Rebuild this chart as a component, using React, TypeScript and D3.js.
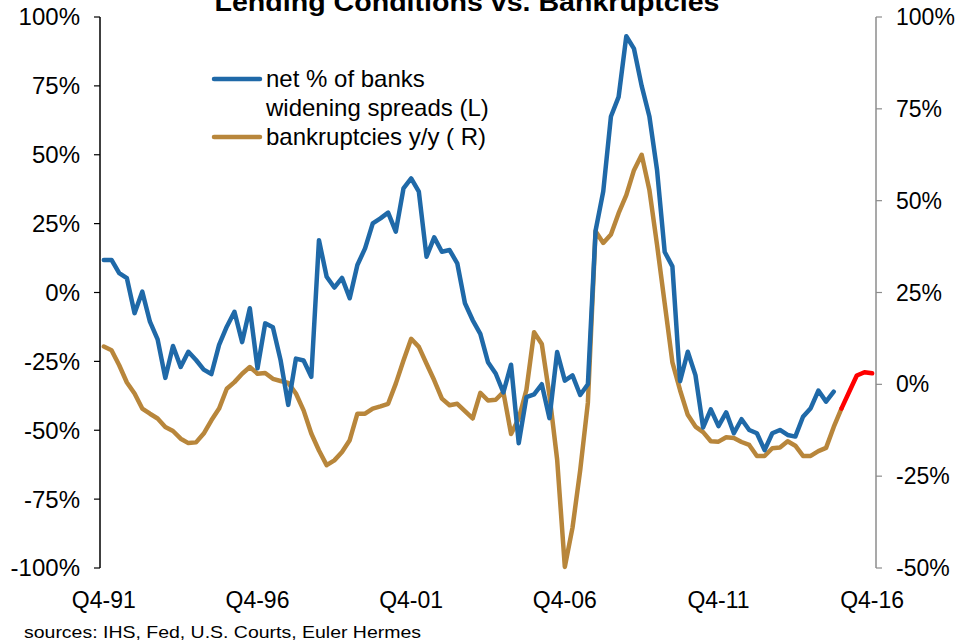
import React from "react";
import * as d3 from "d3";

// ---- data ----
const startYear = 1991; // first quarter Q4-91
const quarterCount = 101; // Q4-91 .. Q4-16
const xTickLabels = ["Q4-91", "Q4-96", "Q4-01", "Q4-06", "Q4-11", "Q4-16"];
const leftTicks = [100, 75, 50, 25, 0, -25, -50, -75, -100];
const rightTicks = [100, 75, 50, 25, 0, -25, -50];

// net % of banks widening spreads (left axis), Q4-91 .. Q4-15
const spreads = [
  11.8, 11.8, 7, 5.2, -7.5, 0.3, -10.6, -17, -31, -19.4,
  -27, -21.5, -24.5, -28, -29.6, -19, -12.4, -7, -18, -5.7,
  -27.5, -11.2, -12.6, -24.5, -40.8, -24, -24.7, -30.6, 19, 5.7,
  1.8, 5.3, -2.1, 10, 16, 25.1, 26.9, 29, 22.1, 37.8,
  41.4, 36.6, 13, 20, 14.8, 15.4, 10.6, -3.9, -10, -15,
  -25.3, -29.4, -36.3, -26.2, -54.7, -38, -37, -33.3, -45.6, -21.6,
  -32, -30.1, -37.2, -33.3, 22.4, 36.7, 63.9, 71, 93, 88.5,
  75, 64, 44.5, 14.7, 9.5, -32.2, -21.5, -30, -49, -42.4,
  -48.5, -43.5, -51.1, -46, -49.9, -51.1, -57.2, -51.1, -49.9, -51.7,
  -52.3, -45.1, -42, -35.6, -39.6, -36,
];

// bankruptcies y/y (right axis), Q4-91 .. Q4-15
const bankruptcies = [
  10.3, 9.3, 5.2, 0.5, -2.5, -6.6, -8, -9.3, -11.6, -12.7,
  -14.8, -16, -15.8, -13.4, -9.8, -6.6, -1.2, 0.6, 2.9, 4.7,
  2.9, 3.1, 1.5, 0.9, 0.4, -2.5, -7.1, -13.4, -18, -22,
  -20.7, -18.4, -15.2, -8, -8, -6.6, -6, -5.3, 0.2, 6.5,
  12.4, 10.2, 5.6, 1.1, -3.9, -5.7, -5.3, -7.3, -9.3, -2.3,
  -4.4, -4.2, -2.1, -13.5, -9.3, -1.5, 14.2, 11, -3, -20.5,
  -49.7, -39, -23.4, -5, 41.7, 38.5, 40.8, 46.6, 51.5, 58.3,
  62.5, 53, 38, 22, 6, -1.6, -8.3, -11.5, -13, -15.5,
  -15.6, -14.4, -14.6, -15.7, -16.5, -19.5, -19.5, -17.4, -17.2, -15.5,
  -16.7, -19.5, -19.5, -18.2, -17.3, -11.6, -6.6,
];

// bankruptcies forecast (right axis), Q4-15 .. Q4-16
const forecastStart = 96;
const forecast = [-6.6, -2.1, 2.4, 3.3, 3.0];

const quarters: string[] = [];
for (let i = 0; i < quarterCount; i++) {
  const q = ((3 + i) % 4) + 1;
  const y = startYear + Math.floor((3 + i) / 4);
  quarters.push(`Q${q}-${String(y % 100).padStart(2, "0")}`);
}

const W = 956;
const H = 643;
const plotLeft = 100;
const plotRight = 876;
const plotTop = 17;
const plotBottom = 568;

const BLUE = "#1f69a8";
const GOLD = "#b8863b";
const RED = "#ff0000";
const FONT = "'Liberation Sans', Arial, sans-serif";

export default function App() {
  const x = d3.scalePoint<string>().domain(quarters).range([plotLeft, plotRight]).padding(0.5);
  const yL = d3.scaleLinear().domain([-100, 100]).range([plotBottom, plotTop]);
  const yR = d3.scaleLinear().domain([-50, 100]).range([plotBottom, plotTop]);

  const lineL = d3
    .line<number>()
    .x((_, i) => x(quarters[i]) as number)
    .y((d) => yL(d));
  const lineR = d3
    .line<number>()
    .x((_, i) => x(quarters[i]) as number)
    .y((d) => yR(d));
  const lineF = d3
    .line<number>()
    .x((_, i) => x(quarters[i + forecastStart]) as number)
    .y((d) => yR(d));

  return (
    <svg width={W} height={H} style={{ position: "absolute", left: 0, top: 0, background: "#fff" }} fontFamily={FONT}>
      <rect x={0} y={0} width={W} height={H} fill="#fff" />
      {/* title */}
      <text x={467} y={11} textAnchor="middle" fontSize={26} fontWeight="bold" textLength={505} lengthAdjust="spacingAndGlyphs" fill="#000">
        Lending Conditions vs. Bankruptcies
      </text>

      {/* left axis */}
      <line x1={plotLeft} x2={plotLeft} y1={plotTop} y2={plotBottom} stroke="#000" strokeWidth={1.5} />
      {leftTicks.map((t) => (
        <g key={"l" + t}>
          <line x1={plotLeft - 6} x2={plotLeft} y1={yL(t)} y2={yL(t)} stroke="#000" strokeWidth={1.2} />
          <text x={80} y={yL(t)} dy="0.35em" textAnchor="end" fontSize={24} fill="#000">
            {t}%
          </text>
        </g>
      ))}

      {/* right axis */}
      <line x1={plotRight} x2={plotRight} y1={plotTop} y2={plotBottom} stroke="#8c8c8c" strokeWidth={1.5} />
      {rightTicks.map((t) => (
        <g key={"r" + t}>
          <line x1={plotRight} x2={plotRight + 6} y1={yR(t)} y2={yR(t)} stroke="#8c8c8c" strokeWidth={1.2} />
          <text x={896} y={yR(t)} dy="0.35em" textAnchor="start" fontSize={23} fill="#000">
            {t}%
          </text>
        </g>
      ))}

      {/* x labels */}
      {xTickLabels.map((l) => (
        <text key={l} x={x(l) as number} y={608} textAnchor="middle" fontSize={23} fill="#000">
          {l}
        </text>
      ))}

      {/* series */}
      <path d={lineR(bankruptcies) || ""} fill="none" stroke={GOLD} strokeWidth={4.5} strokeLinejoin="round" strokeLinecap="round" />
      <path d={lineF(forecast) || ""} fill="none" stroke={RED} strokeWidth={4.5} strokeLinejoin="round" strokeLinecap="round" />
      <path d={lineL(spreads) || ""} fill="none" stroke={BLUE} strokeWidth={4.5} strokeLinejoin="round" strokeLinecap="round" />

      {/* legend */}
      <line x1={214} x2={260} y1={79} y2={79} stroke={BLUE} strokeWidth={4.5} strokeLinecap="round" />
      <text x={266} y={79} dy="0.35em" fontSize={24} fill="#000">net % of banks</text>
      <text x={266} y={108} dy="0.35em" fontSize={24} fill="#000">widening spreads (L)</text>
      <line x1={214} x2={260} y1={137} y2={137} stroke={GOLD} strokeWidth={4.5} strokeLinecap="round" />
      <text x={266} y={137} dy="0.35em" fontSize={24} fill="#000">bankruptcies y/y ( R)</text>

      {/* source */}
      <text x={24} y={638} fontSize={17} textLength={397} lengthAdjust="spacingAndGlyphs" fill="#000">
        sources: IHS, Fed, U.S. Courts, Euler Hermes
      </text>
    </svg>
  );
}
